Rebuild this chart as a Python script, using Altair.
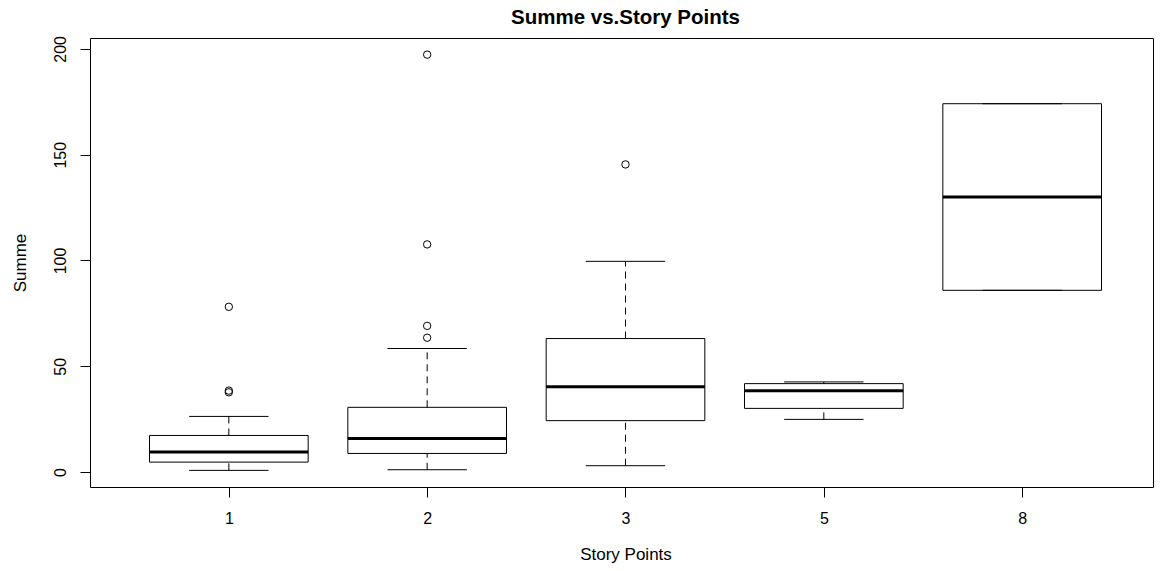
import altair as alt
import pandas as pd

# Story point categories and box statistics
categories = ["1", "2", "3", "5", "8"]
whisker_low = [0.8, 1.1, 3.0, 24.9, 85.9]
q1 = [4.7, 8.8, 24.3, 30.1, 85.9]
median = [9.5, 15.9, 40.3, 38.4, 130.0]
q3 = [17.3, 30.6, 63.1, 41.8, 174.1]
whisker_high = [26.3, 58.4, 99.6, 42.6, 174.1]

outlier_cat = ["1", "1", "1", "2", "2", "2", "2", "3"]
outlier_val = [37.7, 38.5, 78.1, 63.5, 69.1, 107.6, 197.3, 145.4]

FONT = "Liberation Sans"

pos = {c: i + 1 for i, c in enumerate(categories)}
box = pd.DataFrame({
    "cat": categories,
    "lo": whisker_low, "q1": q1, "med": median, "q3": q3, "hi": whisker_high,
})
box["idx"] = box["cat"].map(pos)
box["xl"] = box["idx"] - 0.4
box["xr"] = box["idx"] + 0.4
box["cl"] = box["idx"] - 0.2
box["cr"] = box["idx"] + 0.2

out = pd.DataFrame({"cat": outlier_cat, "val": outlier_val})
out["idx"] = out["cat"].map(pos)

W, H = 1063, 449
px_per_unit = 1071 / 5.4
xscale = alt.Scale(domain=[0.3, 0.3 + W / px_per_unit], nice=False, zero=False)
ymin = min(whisker_low + outlier_val)
ymax = max(whisker_high + outlier_val)
ext = (ymax - ymin) * 0.04
yscale = alt.Scale(domain=[ymin - ext, ymax + ext], nice=False, zero=False)

label_js = "[" + ",".join("'%s'" % c for c in categories) + "][datum.value - 1]"
center_x = (3 - 0.3) * px_per_unit  # horizontal centre of the full R plot region

xaxis = alt.Axis(
    values=list(range(1, len(categories) + 1)), labelExpr=label_js,
    title="Story Points", grid=False, domain=False,
    ticks=True, tickSize=10, tickColor="black", tickWidth=1,
    labelFont=FONT, labelFontSize=16, labelColor="black", labelPadding=13,
    labelAngle=0,
    titleFont=FONT, titleFontSize=17, titleFontWeight="normal", titleColor="black",
    titleBaseline="alphabetic", titleY=72, titleX=center_x, titleAnchor="middle",
    titleAlign="center",
)
yaxis = alt.Axis(
    values=[0, 50, 100, 150, 200], title="Summe", grid=False, domain=False,
    ticks=True, tickSize=10, tickColor="black", tickWidth=1,
    labelFont=FONT, labelFontSize=16, labelColor="black",
    labelAngle=270, labelAlign="center", labelBaseline="alphabetic", labelPadding=15,
    titleFont=FONT, titleFontSize=17, titleFontWeight="normal", titleColor="black",
    titleAngle=270, titleBaseline="alphabetic", titleAlign="center",
    titleX=-65, titleY=H / 2,
)


def X(field):
    return alt.X(field, scale=xscale, axis=xaxis)


def Y(field):
    return alt.Y(field, scale=yscale, axis=yaxis)


base = alt.Chart(box)

rect = base.mark_rect(fill="white", stroke="black", strokeWidth=1).encode(
    x=X("xl:Q"), x2="xr:Q", y=Y("q1:Q"), y2="q3:Q",
)

dash = [7, 5]
wh_up = base.mark_rule(color="black", strokeWidth=1, strokeDash=dash).encode(
    x=X("idx:Q"), y=Y("q3:Q"), y2="hi:Q",
)
wh_lo = base.mark_rule(color="black", strokeWidth=1, strokeDash=dash).encode(
    x=X("idx:Q"), y=Y("lo:Q"), y2="q1:Q",
)
cap_hi = base.mark_rule(color="black", strokeWidth=1).encode(
    x=X("cl:Q"), x2="cr:Q", y=Y("hi:Q"),
)
cap_lo = base.mark_rule(color="black", strokeWidth=1).encode(
    x=X("cl:Q"), x2="cr:Q", y=Y("lo:Q"),
)
med = base.mark_rule(color="black", strokeWidth=3).encode(
    x=X("xl:Q"), x2="xr:Q", y=Y("med:Q"),
)
pts = alt.Chart(out).mark_point(shape="circle", filled=False, color="black",
                                 size=55, strokeWidth=1, opacity=1).encode(
    x=X("idx:Q"), y=Y("val:Q"),
)

title_df = pd.DataFrame({"t": ["Summe vs.Story Points"]})
title = alt.Chart(title_df).mark_text(
    font=FONT, fontSize=20.5, fontWeight="bold", color="black",
    align="center", baseline="alphabetic",
).encode(text="t:N", x=alt.value(center_x), y=alt.value(-14.5))

chart = alt.layer(rect, wh_up, wh_lo, cap_hi, cap_lo, med, pts, title).properties(
    width=W, height=H,
    autosize=alt.AutoSizeParams(type="none"),
    padding={"left": 82, "top": 30, "right": 1, "bottom": 76},
).configure(background="white").configure_view(stroke="black", strokeWidth=1)

chart.save("out.html", embed_options={"renderer": "svg", "actions": False})
